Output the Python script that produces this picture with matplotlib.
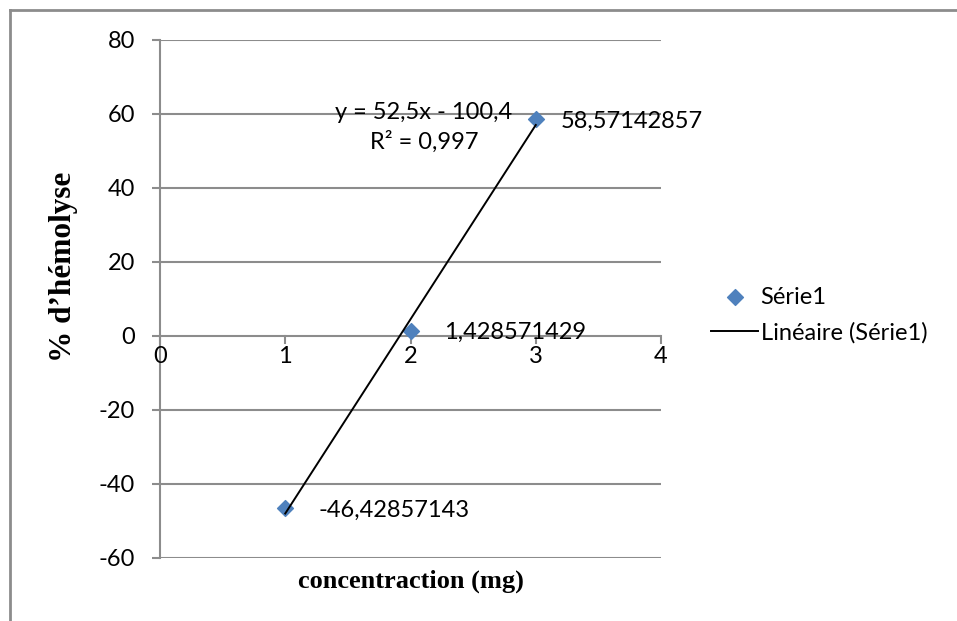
import numpy as np
import matplotlib
matplotlib.use("Agg")
import matplotlib.pyplot as plt
from matplotlib.lines import Line2D

# data
conc = [1, 2, 3]
hemolyse = [-46.42857143, 1.428571429, 58.57142857]
point_labels = ["-46,42857143", "1,428571429", "58,57142857"]
label_dx = [33, 34, 25]   # label offsets in px, as Excel placed them
y_ticks = [-60, -40, -20, 0, 20, 40, 60, 80]
x_ticks = [0, 1, 2, 3, 4]

plt.rcParams['font.family'] = ['Lato', 'DejaVu Sans']
grid_c = '#8c8c8c'
blue = '#4f81bd'
fs = 17

W, H = 957, 621
fig = plt.figure(figsize=(W / 100, H / 100), dpi=100)
ax = fig.add_axes([160 / W, 1 - 558 / H, (661 - 160) / W, (558 - 40) / H])

# outer chart frame (only top and left visible)
fig.add_artist(Line2D([9.5 / W, 9.5 / W], [0, 1 - 9.5 / H], color=grid_c, lw=2, transform=fig.transFigure))
fig.add_artist(Line2D([9.5 / W, 1], [1 - 9.5 / H, 1 - 9.5 / H], color=grid_c, lw=2, transform=fig.transFigure))

ax.set_xlim(0, 4)
ax.set_ylim(-60, 80)
for s in ['top', 'right', 'bottom']:
    ax.spines[s].set_visible(False)
ax.spines['left'].set_color(grid_c)
ax.spines['left'].set_linewidth(1.5)

# horizontal gridlines
for yv in y_ticks:
    ax.axhline(yv, color=grid_c, lw=1.5, zorder=0)

ax.set_yticks(y_ticks)
ax.set_yticklabels([str(v) for v in y_ticks], fontsize=fs)
ax.tick_params(axis='y', length=6, width=1.5, color=grid_c, pad=12)
ax.set_xticks([])

# x axis crossing at y=0 with downward ticks
for xv in x_ticks:
    ax.plot([xv, xv], [0, -2.0], color=grid_c, lw=1.5, clip_on=False, zorder=1)
    ax.text(xv, -5.6, str(xv), ha='center', va='center', fontsize=fs)

# linear trend
coef = np.polyfit(conc, hemolyse, 1)
xs = np.array([conc[0], conc[-1]])
ax.plot(xs, np.polyval(coef, xs), color='black', lw=1.4, zorder=3, label='Linéaire (Série1)')

ax.scatter(conc, hemolyse, marker='D', s=65, color=blue, zorder=2, label='Série1')

for xv, yv, lab, dx in zip(conc, hemolyse, point_labels, label_dx):
    ax.annotate(lab, (xv, yv), xytext=(dx * 0.72, -1.5), textcoords='offset points',
                ha='left', va='center', fontsize=fs)

ax.text(2.108, 60.3, "y = 52,5x - 100,4", ha='center', va='center', fontsize=fs)
ax.text(2.108, 52.6, "R² = 0,997", ha='center', va='center', fontsize=fs)

fig.text(63 / W, 1 - 267 / H, "% d’hémolyse", family=['Liberation Serif'], fontweight='bold',
         fontsize=22.5, rotation=90, ha='center', va='center')
fig.text(411 / W, 1 - 581 / H, "concentraction (mg)", family=['Liberation Serif'], fontweight='bold',
         fontsize=19, ha='center', va='center')

h, l = ax.get_legend_handles_labels()
fig.legend(h[::-1], l[::-1], loc='center left', bbox_to_anchor=(711 / W, 1 - 315 / H),
           frameon=False, fontsize=fs, handlelength=2.0, handletextpad=0.1, labelspacing=0.6,
           borderpad=0, borderaxespad=0, scatterpoints=1)

fig.savefig("out.png", dpi=100)
